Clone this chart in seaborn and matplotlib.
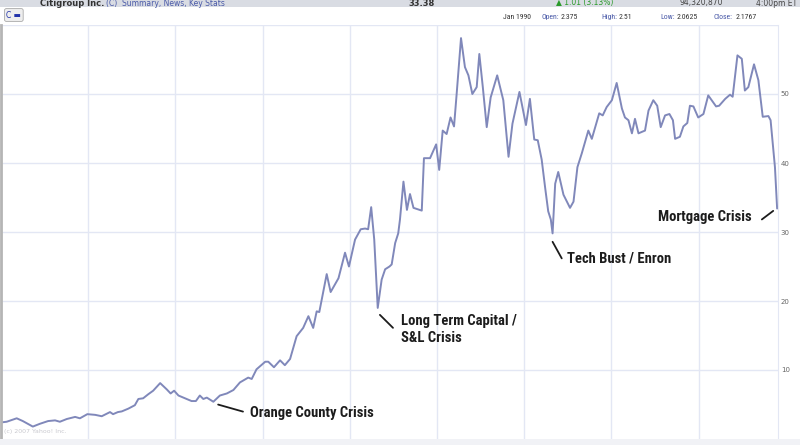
import seaborn as sns
import matplotlib.pyplot as plt
import pandas as pd
from matplotlib import font_manager
from matplotlib.patches import Rectangle

# Citigroup monthly close (split adjusted)
years = [1990.00, 1990.13, 1990.36, 1990.50, 1990.73, 1990.89, 1991.08, 1991.24, 1991.35, 1991.51,
         1991.70, 1991.81, 1991.98, 1992.16, 1992.31, 1992.50, 1992.57, 1992.68, 1992.77, 1992.92,
         1993.07, 1993.15, 1993.26, 1993.38, 1993.49, 1993.65, 1993.80, 1993.89, 1993.97, 1994.07,
         1994.22, 1994.37, 1994.47, 1994.56, 1994.64, 1994.72, 1994.87, 1995.02, 1995.18, 1995.33,
         1995.48, 1995.67, 1995.75, 1995.86, 1996.06, 1996.13, 1996.26, 1996.40, 1996.51, 1996.63,
         1996.78, 1996.93, 1997.05, 1997.16, 1997.24, 1997.30, 1997.47, 1997.56, 1997.74, 1997.89,
         1997.98, 1998.12, 1998.25, 1998.35, 1998.42, 1998.49, 1998.56, 1998.64, 1998.73, 1998.81,
         1998.91, 1998.96, 1999.04, 1999.11, 1999.15, 1999.23, 1999.31, 1999.38, 1999.46, 1999.65,
         1999.70, 1999.84, 1999.98, 2000.05, 2000.13, 2000.22, 2000.31, 2000.39, 2000.45, 2000.55,
         2000.64, 2000.72, 2000.81, 2000.91, 2000.97, 2001.05, 2001.14, 2001.23, 2001.38, 2001.52,
         2001.64, 2001.73, 2001.89, 2002.04, 2002.13, 2002.23, 2002.31, 2002.40, 2002.48, 2002.55,
         2002.61, 2002.65, 2002.71, 2002.78, 2002.90, 2003.05, 2003.13, 2003.22, 2003.32, 2003.47,
         2003.55, 2003.65, 2003.72, 2003.80, 2003.89, 2004.01, 2004.12, 2004.24, 2004.31, 2004.39,
         2004.47, 2004.54, 2004.62, 2004.77, 2004.85, 2004.96, 2005.05, 2005.13, 2005.23, 2005.33,
         2005.41, 2005.46, 2005.57, 2005.65, 2005.74, 2005.80, 2005.88, 2005.99, 2006.11, 2006.22,
         2006.40, 2006.47, 2006.61, 2006.72, 2006.78, 2006.89, 2006.99, 2007.06, 2007.14, 2007.27,
         2007.37, 2007.47, 2007.60, 2007.65, 2007.75, 2007.80]
prices = [2.4, 2.5, 3.0, 2.6, 1.8, 2.2, 2.6, 2.7, 2.5, 2.9,
          3.2, 3.0, 3.6, 3.5, 3.3, 3.9, 3.6, 3.9, 4.0, 4.4,
          4.9, 5.8, 5.9, 6.5, 7.0, 8.1, 7.2, 6.6, 7.0, 6.3,
          5.9, 5.5, 5.5, 6.3, 5.8, 6.0, 5.4, 6.3, 6.6, 7.1,
          8.2, 8.9, 8.7, 10.1, 11.2, 11.2, 10.4, 11.4, 10.7, 11.6,
          14.9, 16.1, 17.8, 16.1, 18.5, 18.4, 23.9, 21.3, 23.3, 27.0,
          25.0, 28.9, 30.4, 30.5, 30.4, 33.6, 28.9, 19.0, 23.1, 24.6,
          25.0, 25.3, 28.4, 29.8, 31.8, 37.3, 33.2, 35.5, 33.5, 33.1,
          40.7, 40.7, 42.7, 39.0, 44.7, 44.2, 46.6, 45.3, 50.0, 58.1,
          53.9, 52.7, 50.0, 51.0, 55.8, 51.0, 45.2, 49.5, 52.7, 49.1,
          40.9, 45.7, 50.3, 45.5, 49.3, 43.4, 43.3, 40.5, 36.4, 33.0,
          31.8, 29.8, 37.0, 38.7, 35.4, 33.5, 34.4, 39.4, 41.4, 44.7,
          43.5, 45.7, 47.2, 46.9, 48.1, 49.1, 51.6, 47.9, 46.6, 46.2,
          44.3, 46.4, 44.3, 44.7, 47.6, 49.1, 48.3, 45.2, 46.9, 47.1,
          46.2, 43.5, 43.8, 45.3, 45.8, 48.3, 48.2, 46.6, 47.1, 49.8,
          48.2, 48.3, 49.3, 49.9, 49.6, 55.6, 55.1, 50.5, 51.0, 54.3,
          52.0, 46.7, 46.8, 46.2, 39.4, 33.4]

x_ticks = [1990, 1992, 1994, 1996, 1998, 2000, 2002, 2004, 2006]
y_ticks = [10, 20, 30, 40, 50]

events = ["Orange County Crisis", "Long Term Capital /\nS&L Crisis", "Tech Bust / Enron", "Mortgage Crisis"]

df = pd.DataFrame({"year": years, "close": prices})

sns.set_style("white")
plt.rcParams["font.family"] = ["DejaVu Sans"]

# pick a narrow font for the call-outs if one is installed
installed = {f.name for f in font_manager.fontManager.ttflist}
narrow = None
for cand in ["Liberation Sans Narrow", "Roboto Condensed", "DejaVu Sans Condensed",
             "Open Sans Condensed", "Noto Sans Display", "Lato", "Roboto"]:
    if cand in installed:
        narrow = cand
        break
if narrow is None:
    narrow = "DejaVu Sans"

fig = plt.figure(figsize=(8, 4.45), dpi=100)
fig.patch.set_facecolor("white")

# header strips
fig.patches.append(Rectangle((0, 1 - 7/445), 1, 7/445, transform=fig.transFigure,
                             facecolor="#d9dce3", edgecolor="none"))
fig.patches.append(Rectangle((0, 0), 1, 6/445, transform=fig.transFigure,
                             facecolor="#f1f2f6", edgecolor="none"))
top_y = 1 - 3/445
fig.text(0.05, top_y, "Citigroup Inc.", fontsize=6, fontweight="bold", color="#333", va="center")
fig.text(0.133, top_y, "(C)  Summary, News, Key Stats", fontsize=5.5, color="#4a5aa8", va="center")
fig.text(0.51, top_y, "33.38", fontsize=6, fontweight="bold", color="#333", va="center")
fig.text(0.695, top_y, "\u25b2 1.01 (3.13%)", fontsize=5.5, color="#2a9a2a", va="center")
fig.text(0.85, top_y, "94,320,870", fontsize=5.5, color="#444", va="center")
fig.text(0.945, top_y, "4:00pm ET", fontsize=5.5, color="#444", va="center")

info_y = 1 - 17/445
info = [("Jan 1990", 503, "#333"), ("Open:", 542, "#4a5aa8"), ("2.375", 561, "#333"),
        ("High:", 601, "#4a5aa8"), ("2.51", 619, "#333"), ("Low:", 660, "#4a5aa8"),
        ("2.0625", 677, "#333"), ("Close:", 713, "#4a5aa8"), ("2.1767", 736, "#333")]
for s, xp, c in info:
    fig.text(xp / 800, info_y, s, fontsize=5.6, color=c, va="center",
             family=[narrow, "DejaVu Sans"])
fig.text(0.008, 1 - 15/445, "C \u25ac", fontsize=5.5, color="#2233aa", va="center",
         bbox=dict(boxstyle="round,pad=0.25", facecolor="#eeeeee", edgecolor="#aaaaaa", linewidth=0.6))

ax = fig.add_axes([1/800, 6/445, 777/800, 414/445])
sns.lineplot(data=df, x="year", y="close", ax=ax, color="#8088ba", linewidth=1.4)

ax.set_xlim(1990.0, 2007.82)
ax.set_ylim(0, 60)
ax.set_xticks(x_ticks)
ax.set_yticks(y_ticks + [60])
ax.set_xticklabels([str(t) for t in x_ticks])
ax.set_yticklabels([str(t) for t in y_ticks] + [""])
ax.grid(True, color="#e3e7f4", linewidth=1.0)
ax.set_axisbelow(True)
ax.yaxis.tick_right()
ax.tick_params(axis="both", length=0, labelsize=5, colors="#666", pad=2)
ax.tick_params(axis="x", pad=1)
ax.get_xticklabels()[0].set_ha("left")
ax.set_xlabel("")
ax.set_ylabel("")
for side in ["top", "bottom"]:
    ax.spines[side].set_visible(False)
ax.spines["right"].set_color("#e3e7f4")
ax.spines["left"].set_color("#b5b5b5")
ax.spines["left"].set_linewidth(2)

ax.text(1990.07, 0.9, "(c) 2007 Yahoo! Inc.", fontsize=4.5, color="#c9c9cf")

# annotations
size = 10.5 if narrow in ("Liberation Sans Narrow", "Roboto Condensed", "DejaVu Sans Condensed",
                          "Open Sans Condensed") else 8.5
lab = dict(fontsize=size, fontweight="bold", color="#1c1c1c",
           family=[narrow, "DejaVu Sans"], fontstretch="condensed", va="center")
ax.plot([1994.98, 1995.55], [4.99, 3.97], color="#1c1c1c", linewidth=1.3)
ax.text(1995.71, 3.8, events[0], ha="left", **lab)
ax.plot([1998.69, 1998.99], [17.99, 16.11], color="#1c1c1c", linewidth=1.3)
ax.text(1999.17, 15.9, events[1], ha="left", linespacing=1.25, **lab)
ax.plot([2002.65, 2002.86], [28.58, 26.18], color="#1c1c1c", linewidth=1.3)
ax.text(2002.97, 26.2, events[2], ha="left", **lab)
ax.plot([2007.45, 2007.71], [31.82, 33.06], color="#1c1c1c", linewidth=1.3)
ax.text(2007.22, 32.2, events[3], ha="right", **lab)

fig.savefig("out.png", dpi=100)
